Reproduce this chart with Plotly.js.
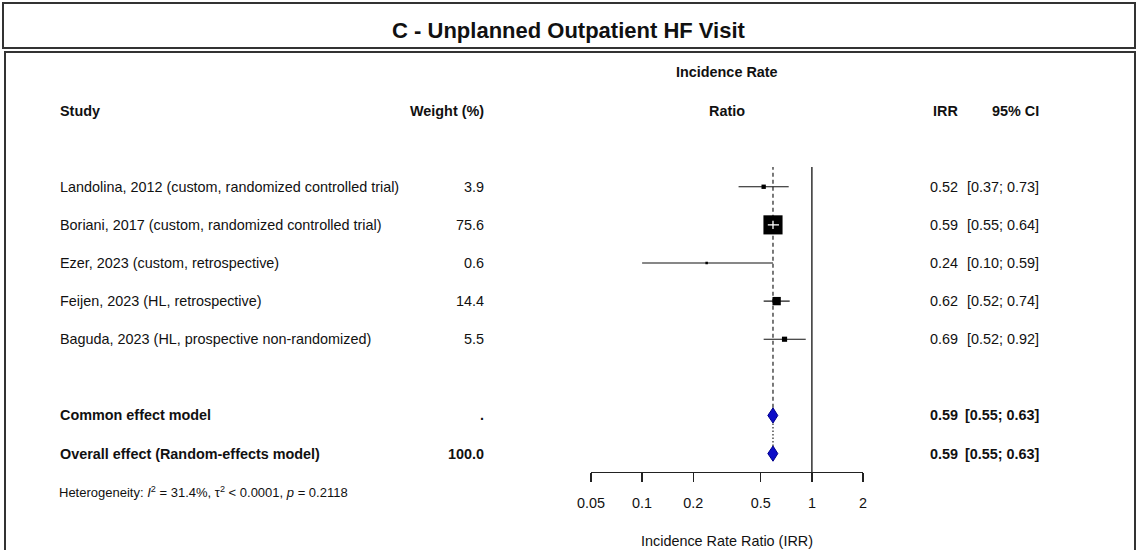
<!DOCTYPE html>
<html>
<head>
<meta charset="utf-8">
<script src="https://cdn.plot.ly/plotly-3.0.1.min.js"></script>
<style>html,body{margin:0;padding:0;background:#fff;}#chart{width:1137px;height:550px;}</style>
</head>
<body>
<div id="chart"></div>
<script>
// ---------- data ----------
const chartTitle = "C - Unplanned Outpatient HF Visit";
const studies = [
  "Landolina, 2012 (custom, randomized controlled trial)",
  "Boriani, 2017 (custom, randomized controlled trial)",
  "Ezer, 2023 (custom, retrospective)",
  "Feijen, 2023 (HL, retrospective)",
  "Baguda, 2023 (HL, prospective non-randomized)"
];
const weights = [3.9, 75.6, 0.6, 14.4, 5.5];
const weightLabels = ["3.9", "75.6", "0.6", "14.4", "5.5"];
const irr = [0.52, 0.59, 0.24, 0.62, 0.69];
const ciLow = [0.37, 0.55, 0.10, 0.52, 0.52];
const ciHigh = [0.73, 0.64, 0.59, 0.74, 0.92];
const irrLabels = ["0.52", "0.59", "0.24", "0.62", "0.69"];
const ciLabels = ["[0.37; 0.73]", "[0.55; 0.64]", "[0.10; 0.59]", "[0.52; 0.74]", "[0.52; 0.92]"];

const models = ["Common effect model", "Overall effect (Random-effects model)"];
const modelWeightLabels = [".", "100.0"];
const modelIrr = [0.59, 0.59];
const modelLow = [0.55, 0.55];
const modelHigh = [0.63, 0.63];
const modelIrrLabels = ["0.59", "0.59"];
const modelCiLabels = ["[0.55; 0.63]", "[0.55; 0.63]"];

const tickVals = [0.05, 0.1, 0.2, 0.5, 1, 2];
const tickLabels = ["0.05", "0.1", "0.2", "0.5", "1", "2"];
const xRangeVals = [0.05, 2];
const nullValue = 1;
const heterogeneity = "Heterogeneity: <i>I</i><sup>2</sup> = 31.4%, τ<sup>2</sup> &lt; 0.0001, <i>p</i> = 0.2118";
const xTitle = "Incidence Rate Ratio (IRR)";

// ---------- layout geometry ----------
const W = 1137, H = 550;
const M = {l: 591, r: 274, t: 60, b: 78};
const plotW = W - M.l - M.r, plotH = H - M.t - M.b;
const px2x = p => (p - M.l) / plotW;
const py2y = p => (H - M.b - p) / plotH;

const studyRows = [8, 7, 6, 5, 4];
const modelRows = [2, 1];
const headerRow = 10, header2Row = 11;
const lineTop = 8.52;
const pxPerDecade = plotW / (Math.log10(xRangeVals[1]) - Math.log10(xRangeVals[0]));

const FONT = "Liberation Sans, Arial, sans-serif";
const TXT = "#111";
const fs = 14.4;

const traces = [];
// CI lines
studies.forEach((s, i) => {
  traces.push({x: [ciLow[i], ciHigh[i]], y: [studyRows[i], studyRows[i]], mode: "lines",
    line: {color: "#111", width: 1.2}, hoverinfo: "skip", showlegend: false});
});
// squares (area proportional to weight)
const sizes = weights.map(w => Math.max(2.2 * Math.sqrt(w), 2.5));
traces.push({x: irr, y: studyRows, mode: "markers", type: "scatter",
  marker: {symbol: "square", size: sizes, color: "#000", opacity: 1, line: {width: 0}},
  hoverinfo: "skip", showlegend: false});
// white CI inside boxes that cover the CI
studies.forEach((s, i) => {
  const half = sizes[i] / 2 / pxPerDecade;
  if (Math.log10(ciLow[i]) > Math.log10(irr[i]) - half && Math.log10(ciHigh[i]) < Math.log10(irr[i]) + half) {
    traces.push({x: [ciLow[i], ciHigh[i]], y: [studyRows[i], studyRows[i]], mode: "lines",
      line: {color: "#fff", width: 1.3}, hoverinfo: "skip", showlegend: false});
    traces.push({x: [irr[i], irr[i]], y: [studyRows[i] - 0.11, studyRows[i] + 0.11], mode: "lines",
      line: {color: "#fff", width: 1.3}, hoverinfo: "skip", showlegend: false});
  }
});
// diamonds
const dh = 0.2;
models.forEach((m, i) => {
  const r = modelRows[i];
  traces.push({x: [modelLow[i], modelIrr[i], modelHigh[i], modelIrr[i], modelLow[i]],
    y: [r, r + dh, r, r - dh, r], mode: "lines", fill: "toself", fillcolor: "#0c0cc8",
    line: {color: "#00008b", width: 1}, hoverinfo: "skip", showlegend: false});
});

const shapes = [
  // frames
  {type: "rect", xref: "paper", yref: "paper", x0: px2x(3), x1: px2x(1135), y0: py2y(3), y1: py2y(48),
    line: {color: "#333", width: 2}, fillcolor: "rgba(0,0,0,0)", layer: "below"},
  {type: "rect", xref: "paper", yref: "paper", x0: px2x(5), x1: px2x(1135), y0: py2y(52), y1: py2y(565),
    line: {color: "#333", width: 2}, fillcolor: "rgba(0,0,0,0)", layer: "below"},
  // null line
  {type: "line", xref: "x", yref: "y", x0: nullValue, x1: nullValue, y0: 0.517, y1: lineTop,
    line: {color: "#222", width: 1.4}},
  // common-effect dashed line
  {type: "line", xref: "x", yref: "y", x0: modelIrr[0], x1: modelIrr[0], y0: modelRows[0] + dh, y1: lineTop,
    line: {color: "#222", width: 1.2, dash: "4px,3px"}, layer: "below"},
  // random-effects dotted line
  {type: "line", xref: "x", yref: "y", x0: modelIrr[1], x1: modelIrr[1], y0: modelRows[1] + dh, y1: modelRows[0] - dh,
    line: {color: "#222", width: 1.2, dash: "1.5px,2px"}, layer: "below"}
];

const ann = [];
function addText(text, pxX, y, anchor, bold, size) {
  ann.push({text: bold ? "<b>" + text + "</b>" : text, xref: "paper", yref: "y",
    x: px2x(pxX), y: y, xanchor: anchor, yanchor: "middle", showarrow: false, borderpad: 0, borderwidth: 0,
    font: {family: FONT, size: size || fs, color: TXT}});
}
const colStudy = 60, colWeight = 484, colPlotC = 727, colIrr = 958, colCi = 1039;
addText("Study", colStudy, headerRow, "left", true);
addText("Weight (%)", colWeight, headerRow, "right", true);
addText("Incidence Rate", colPlotC, header2Row, "center", true);
addText("Ratio", colPlotC, headerRow, "center", true);
addText("IRR", colIrr, headerRow, "right", true);
addText("95% CI", colCi, headerRow, "right", true);
studies.forEach((s, i) => {
  addText(s, colStudy, studyRows[i], "left", false);
  addText(weightLabels[i], colWeight, studyRows[i], "right", false);
  addText(irrLabels[i], colIrr, studyRows[i], "right", false);
  addText(ciLabels[i], colCi, studyRows[i], "right", false);
});
models.forEach((m, i) => {
  addText(m, colStudy, modelRows[i], "left", true);
  addText(modelWeightLabels[i], colWeight, modelRows[i], "right", true);
  addText(modelIrrLabels[i], colIrr, modelRows[i], "right", true);
  addText(modelCiLabels[i], colCi, modelRows[i], "right", true);
});
ann.push({text: heterogeneity, xref: "paper", yref: "paper", x: px2x(59), y: py2y(492),
  xanchor: "left", yanchor: "middle", showarrow: false, borderpad: 0, borderwidth: 0,
  font: {family: FONT, size: 13, color: TXT}});

const layout = {
  width: W, height: H, margin: M,
  paper_bgcolor: "#fff", plot_bgcolor: "#fff",
  title: {text: "<b>" + chartTitle + "</b>", xref: "container", yref: "container", x: 0.5, y: 1 - 30 / H,
    xanchor: "center", yanchor: "middle",
    font: {family: "Liberation Sans, Arial, sans-serif", size: 22, color: "#111"}},
  xaxis: {type: "log", range: xRangeVals.map(Math.log10), tickvals: tickVals, ticktext: tickLabels,
    ticks: "outside", ticklen: 9, tickwidth: 1.4, tickcolor: "#222", showline: true, linewidth: 1.4,
    linecolor: "#222", showgrid: false, zeroline: false, ticklabelstandoff: 8,
    tickfont: {family: FONT, size: 14.4, color: TXT},
    title: {text: xTitle, standoff: 26, font: {family: FONT, size: 14.4, color: TXT}}, fixedrange: true},
  yaxis: {range: [0.517, 11.325], visible: false, showgrid: false, zeroline: false, fixedrange: true},
  shapes: shapes, annotations: ann, showlegend: false
};
Plotly.newPlot("chart", traces, layout, {displayModeBar: false, staticPlot: true});
</script>
</body>
</html>
